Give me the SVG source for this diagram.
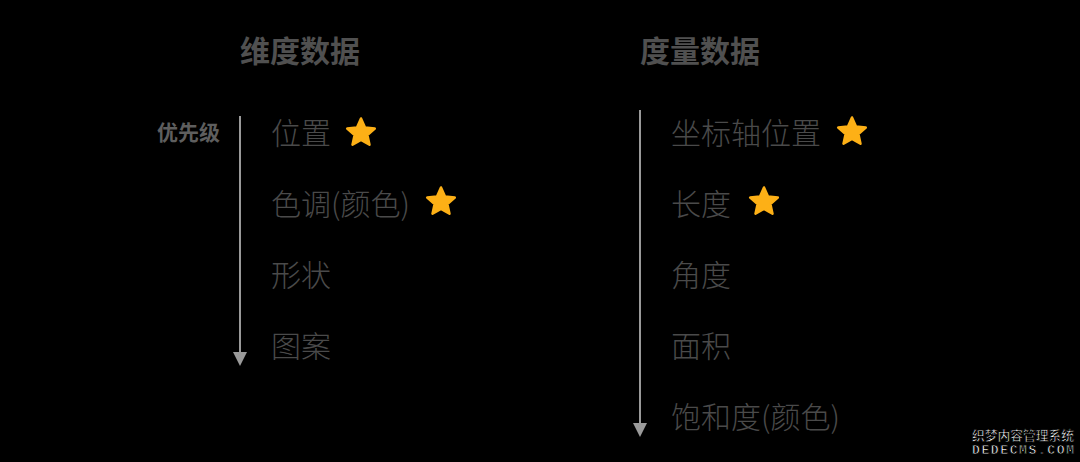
<svg xmlns="http://www.w3.org/2000/svg" width="1080" height="462" viewBox="0 0 1080 462">
<style>
.title{font-family:"Noto Sans CJK SC","Noto Sans",sans-serif;font-size:30px;font-weight:700;fill:#505050}
.item{font-family:"Noto Sans CJK SC","Noto Sans",sans-serif;font-size:30px;font-weight:300;fill:#4a4a4a}
.prio{font-family:"Noto Sans CJK SC","Noto Sans",sans-serif;font-size:21px;font-weight:700;fill:#5e5e5e}
.axis{stroke:#9a9a9a;stroke-width:2;fill:none}
.star{fill:#FDB016;stroke:#FDB016;stroke-width:2.5;stroke-linejoin:round}
.wm{font-family:"Noto Sans CJK SC",sans-serif;font-size:13px;font-weight:700;fill:#fff;stroke:#000;stroke-width:0.8}
.wm2{font-family:"Liberation Mono",monospace;font-size:13px;font-weight:700;fill:#fff;stroke:#000;stroke-width:0.8}
</style>
<defs>
<path id="starShape" d="M0,-14.5 L4,-5.5 L13.8,-4.5 L6.4,2.1 L8.5,11.7 L0,6.8 L-8.5,11.7 L-6.4,2.1 L-13.8,-4.5 L-4,-5.5 Z"/>
</defs>
<rect width="1080" height="462" fill="#000"/>
<g id="connectors">
<line class="axis" x1="240" y1="116" x2="240" y2="352"/>
<path d="M233,352 L247,352 L240,366 Z" fill="#9a9a9a"/>
<line class="axis" x1="640" y1="110" x2="640" y2="423"/>
<path d="M633,423 L647,423 L640,437 Z" fill="#9a9a9a"/>
</g>
<g id="title-dimension"><text class="title" x="240" y="62">维度数据</text></g>
<g id="title-measure"><text class="title" x="640" y="62">度量数据</text></g>
<g id="priority"><text class="prio" x="157" y="140">优先级</text></g>
<g id="dim-position"><text class="item" x="271" y="144">位置</text><use href="#starShape" class="star" x="361" y="133"/></g>
<g id="dim-hue"><text class="item" x="271" y="215">色调(颜色)</text><use href="#starShape" class="star" x="441" y="202"/></g>
<g id="dim-shape"><text class="item" x="271" y="286">形状</text></g>
<g id="dim-pattern"><text class="item" x="271" y="357">图案</text></g>
<g id="mea-axis"><text class="item" x="671" y="144">坐标轴位置</text><use href="#starShape" class="star" x="852" y="132"/></g>
<g id="mea-length"><text class="item" x="671" y="215">长度</text><use href="#starShape" class="star" x="764" y="202"/></g>
<g id="mea-angle"><text class="item" x="671" y="286">角度</text></g>
<g id="mea-area"><text class="item" x="671" y="357">面积</text></g>
<g id="mea-saturation"><text class="item" x="671" y="428">饱和度(颜色)</text></g>
<g id="watermark">
<text class="wm" x="972" y="440" textLength="102" lengthAdjust="spacingAndGlyphs">织梦内容管理系统</text>
<text class="wm2" x="972" y="454" textLength="102" lengthAdjust="spacing">DEDECMS.COM</text>
</g>
</svg>
